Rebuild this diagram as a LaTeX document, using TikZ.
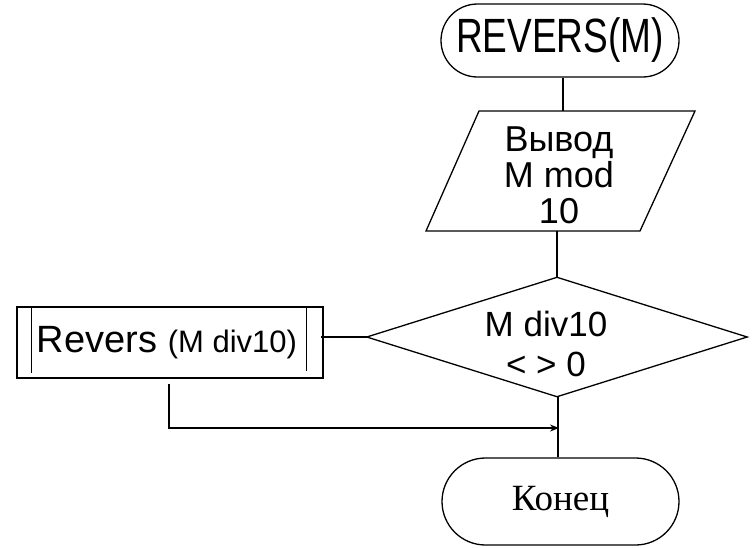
\documentclass[tikz,border=0pt]{standalone}
\usepackage{fontspec}
\setmainfont{Liberation Sans}
\newfontfamily\serifcyr{Liberation Serif}
\usetikzlibrary{arrows.meta}

\tikzset{
  flow/.style={line width=1.3pt},
  terminal/.style={draw, flow, rectangle, inner sep=0pt, align=center},
  shell/.style={rectangle, inner sep=0pt, align=center},
  callbox/.style={draw, line width=1.1pt, rectangle, inner sep=0pt,
    minimum width=306pt, minimum height=71pt},
  link/.style={flow},
  arrowlink/.style={flow, -{Stealth[length=9pt,width=7pt]}},
}

\begin{document}
\begin{tikzpicture}[x=1pt,y=-1pt]
  \useasboundingbox (0,0) rectangle (752,547);

  % start terminator
  \node[terminal, minimum width=238pt, minimum height=73pt,
        rounded corners=36.5pt, font={\fontsize{37}{37}\selectfont}] (start) at (560,40.5)
    {\raisebox{-6pt}{\scalebox{1}[1.3]{REVERS(M)}}};

  % output block (parallelogram)
  \node[shell, minimum width=269pt, minimum height=120pt] (out) at (558,171) {};
  \draw[flow, shift={(out.center)}]
    (-79,-60) -- (137,-60) -- (82,60) -- (-132,60) -- cycle;
  \node[shell, font={\fontsize{36}{36}\selectfont}] (outtext) at (559,175)
    {Вывод\\M mod\\10};

  % decision (diamond)
  \node[shell, minimum width=380pt, minimum height=119pt] (cond) at (557,337) {};
  \draw[flow] (cond.north) -- (cond.east) -- (cond.south) -- (cond.west) -- cycle;
  \node[shell, font={\fontsize{35}{40}\selectfont}] (condtext) at (546,344)
    {M div10\\< > 0};

  % recursive call (predefined process)
  \node[callbox] (call) at (170,342.5)
    {\hspace*{-6pt}\fontsize{38}{38}\selectfont Revers \fontsize{31}{31}\selectfont(M div10)};
  \draw[line width=1.1pt] ([xshift=15pt]call.north west) -- ++(0,67);
  \draw[line width=1.1pt] ([xshift=-17pt]call.north east) -- ++(0,65);

  % end terminator
  \node[terminal, minimum width=237pt, minimum height=87pt,
        rounded corners=43.5pt, font={\serifcyr\fontsize{37}{37}\selectfont}] (end) at (560.5,501.5)
    {Конец};

  % connectors
  \coordinate (join) at (559,428);
  \draw[link] ([xshift=3pt]start.south) -- ([xshift=3pt]start.south |- out.north);
  \draw[link] (cond.north |- out.south) -- (cond.north);
  \draw[link] (cond.west) -- ([xshift=-3pt]cond.west -| call.east);
  \draw[link] ([xshift=1pt]cond.south) -- ([xshift=1pt]cond.south |- end.north);
  \draw[arrowlink] ([xshift=-1pt,yshift=-5pt]call.south) |- (join);
\end{tikzpicture}
\end{document}
